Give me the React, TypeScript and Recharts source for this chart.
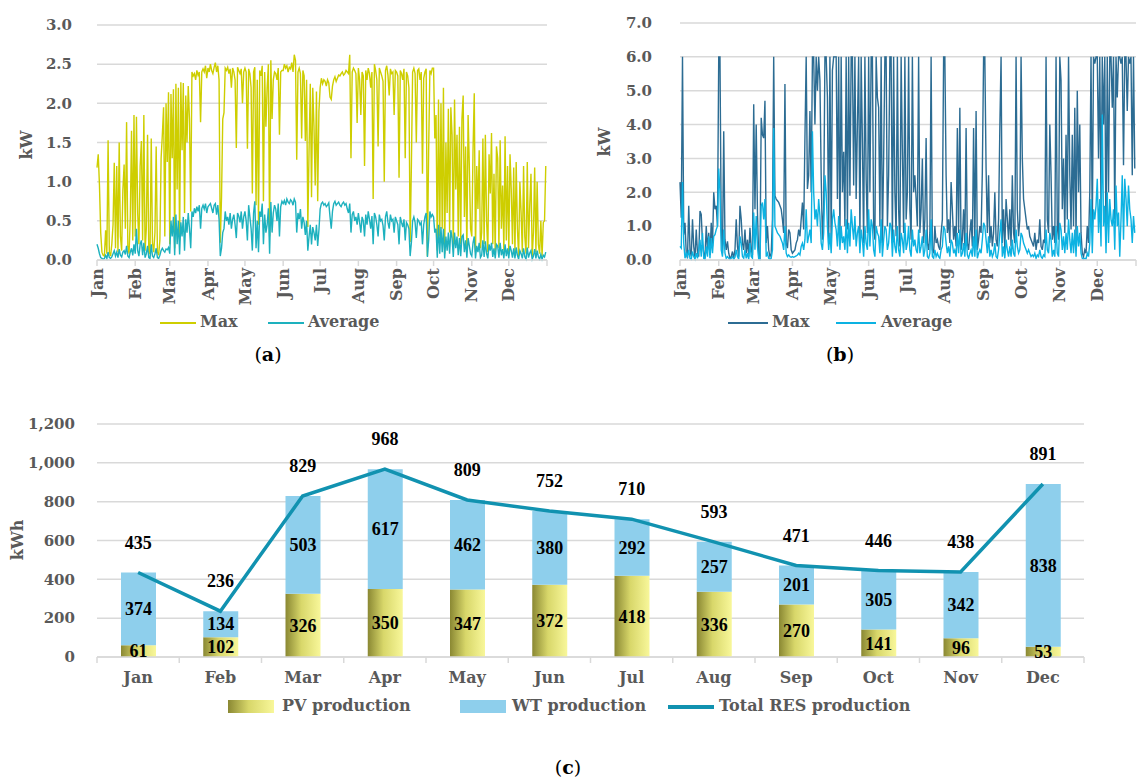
import {
  LineChart,
  Line,
  XAxis,
  YAxis,
  CartesianGrid,
  ComposedChart,
  Bar,
  LabelList,
} from "recharts";

const SERIF = '"DejaVu Serif", serif';
const TIMES = '"Liberation Serif", serif';
const GRAY = "#595959";
const GRID = "#d9d9d9";

const monthNames = ["Jan", "Feb", "Mar", "Apr", "May", "Jun", "Jul", "Aug", "Sep", "Oct", "Nov", "Dec"];
const monthStarts = [0, 31, 59, 90, 120, 151, 181, 212, 243, 273, 304, 334];

// (a) PV daily power, kW
const pvMax = [
  1.18, 1.35, 0.95, 0.35, 0.1, 0.06, 0.05, 0.38, 0.08, 1.53, 0.1, 0.05, 0.2, 0.45, 1.24, 0.15, 1.2, 0.1, 1.5, 0.3, 0.12, 0.9, 1.22, 0.4, 1.76, 0.18, 0.08, 0.55, 1.65, 0.25, 1.85,
  0.3, 1.83, 0.6, 0.2, 1.2, 1.52, 0.25, 1.85, 0.12, 0.4, 1.6, 0.1, 0.08, 1.55, 0.22, 0.1, 0.35, 1.45, 0.1, 0.06, 0.25, 1.3, 1.6, 1.95, 0.3, 2.0, 1.25, 2.14,
  0.2, 2.12, 1.3, 2.18, 0.15, 2.25, 0.9, 2.2, 0.25, 2.27, 1.4, 2.26, 0.6, 2.1, 1.5, 2.22, 1.8, 0.62, 2.4, 2.35, 2.38, 2.3, 2.42, 2.36, 2.4, 1.76, 2.4, 2.44, 2.4, 2.48, 2.32,
  2.45, 2.4, 2.5, 2.42, 2.38, 2.46, 2.52, 2.4, 2.48, 2.3, 0.22, 0.8, 1.8, 1.88, 2.45, 2.42, 2.46, 2.38, 2.44, 2.2, 2.45, 2.4, 2.3, 1.43, 2.46, 2.42, 2.38, 2.44, 2.0, 2.4,
  2.45, 2.4, 1.42, 2.44, 2.38, 2.2, 0.85, 2.4, 2.46, 0.7, 2.3, 0.45, 2.42, 2.35, 2.48, 0.75, 2.4, 1.7, 2.2, 2.5, 0.3, 2.55, 1.8, 2.3, 2.4, 2.38, 2.3, 2.45, 1.6, 2.4, 2.42,
  2.42, 2.5, 2.45, 2.48, 2.4, 2.46, 2.44, 2.52, 2.4, 2.62, 2.55, 1.28, 2.4, 2.45, 2.38, 1.55, 2.42, 2.35, 1.52, 2.3, 0.42, 1.4, 2.25, 0.8, 2.2, 1.7, 0.95, 2.15, 0.75, 1.9,
  2.2, 2.32, 2.25, 2.3, 2.28, 2.22, 2.3, 2.26, 2.08, 2.05, 2.22, 2.3, 2.34, 2.28, 2.32, 2.36, 2.35, 2.38, 2.4, 2.36, 2.38, 2.42, 2.4, 2.38, 2.62, 1.3, 2.4, 2.45, 2.42, 2.38, 1.75,
  2.45, 2.3, 1.85, 2.4, 2.35, 1.2, 2.42, 2.3, 2.45, 2.38, 2.2, 2.4, 0.78, 2.5, 2.42, 2.3, 1.45, 2.45, 2.4, 2.35, 2.28, 1.0, 2.42, 2.48, 2.36, 2.1, 2.44, 2.38, 2.4, 1.85, 2.42,
  2.4, 2.35, 1.05, 2.42, 2.38, 2.3, 2.44, 1.3, 2.4, 2.35, 2.2, 0.23, 1.2, 2.4, 2.45, 2.38, 1.5, 2.42, 2.44, 2.3, 2.4, 1.1, 2.32, 2.4, 2.44, 0.05, 1.4, 2.42, 2.38, 2.45,
  2.45, 1.55, 1.85, 0.12, 2.05, 0.3, 2.0, 0.4, 2.2, 0.08, 1.5, 0.6, 1.93, 0.35, 1.95, 1.6, 0.15, 2.05, 0.9, 1.6, 0.3, 1.7, 0.2, 1.8, 2.1, 0.55, 1.45, 0.1, 1.85, 1.2, 0.4,
  0.3, 1.4, 2.13, 0.1, 1.2, 0.65, 1.4, 0.15, 0.35, 1.55, 0.2, 1.6, 0.5, 0.1, 1.35, 0.85, 1.62, 0.2, 1.1, 0.08, 1.45, 1.3, 0.15, 1.53, 0.4, 0.95, 0.12, 1.58, 0.25, 1.2,
  0.1, 1.35, 0.9, 0.2, 1.18, 0.08, 1.25, 0.4, 0.05, 1.0, 0.6, 0.1, 1.2, 0.3, 0.08, 1.25, 0.15, 0.7, 1.1, 0.05, 0.35, 1.18, 0.1, 1.0, 0.2, 0.08, 0.5, 0.05, 0.48, 0.5, 1.2,
];
const pvAvg = [
  0.2, 0.15, 0.08, 0.03, 0.02, 0.01, 0.02, 0.06, 0.02, 0.1, 0.03, 0.02, 0.04, 0.08, 0.12, 0.05, 0.1, 0.03, 0.14, 0.06, 0.04, 0.1, 0.12, 0.07, 0.18, 0.05, 0.03, 0.1, 0.15, 0.06, 0.2,
  0.08, 0.4, 0.12, 0.05, 0.2, 0.25, 0.06, 0.22, 0.03, 0.08, 0.18, 0.03, 0.02, 0.2, 0.05, 0.03, 0.08, 0.15, 0.03, 0.02, 0.06, 0.12, 0.15, 0.12, 0.1, 0.14, 0.13, 0.16,
  0.08, 0.5, 0.3, 0.55, 0.06, 0.58, 0.2, 0.5, 0.07, 0.48, 0.3, 0.55, 0.12, 0.52, 0.35, 0.6, 0.4, 0.15, 0.62, 0.55, 0.66, 0.6, 0.68, 0.62, 0.7, 0.4, 0.66, 0.7, 0.65, 0.72, 0.6,
  0.68, 0.7, 0.72, 0.66, 0.6, 0.7, 0.72, 0.58, 0.7, 0.52, 0.05, 0.15, 0.35, 0.4, 0.62, 0.5, 0.55, 0.45, 0.6, 0.4, 0.52, 0.58, 0.45, 0.28, 0.6, 0.56, 0.48, 0.62, 0.4, 0.55,
  0.62, 0.5, 0.25, 0.7, 0.55, 0.4, 0.12, 0.6, 0.75, 0.15, 0.5, 0.1, 0.62, 0.55, 0.72, 0.2, 0.58, 0.35, 0.45, 0.66, 0.08, 0.74, 0.35, 0.6, 0.7, 0.65, 0.5, 0.72, 0.3, 0.68, 0.75,
  0.72, 0.76, 0.7, 0.78, 0.74, 0.72, 0.77, 0.75, 0.7, 0.78, 0.74, 0.35, 0.6, 0.52, 0.65, 0.4, 0.55, 0.48, 0.32, 0.5, 0.12, 0.3, 0.45, 0.2, 0.42, 0.35, 0.25, 0.45, 0.18, 0.38,
  0.65, 0.72, 0.74, 0.7, 0.72, 0.68, 0.7, 0.73, 0.55, 0.4, 0.62, 0.72, 0.75, 0.7, 0.72, 0.74, 0.7, 0.68, 0.72, 0.74, 0.7, 0.72, 0.65, 0.6, 0.72, 0.35, 0.58, 0.62, 0.5, 0.55, 0.45,
  0.6, 0.48, 0.35, 0.55, 0.5, 0.3, 0.58, 0.45, 0.62, 0.52, 0.4, 0.56, 0.2, 0.6, 0.55, 0.45, 0.3, 0.58, 0.5, 0.52, 0.44, 0.25, 0.55, 0.62, 0.48, 0.4, 0.58, 0.5, 0.52, 0.35, 0.55,
  0.5, 0.45, 0.2, 0.55, 0.48, 0.42, 0.52, 0.25, 0.48, 0.45, 0.4, 0.05, 0.22, 0.5, 0.55, 0.48, 0.28, 0.52, 0.5, 0.45, 0.48, 0.2, 0.45, 0.55, 0.6, 0.04, 0.25, 0.62, 0.55, 0.58,
  0.55, 0.35, 0.4, 0.03, 0.45, 0.08, 0.42, 0.1, 0.4, 0.02, 0.3, 0.12, 0.35, 0.08, 0.38, 0.28, 0.04, 0.35, 0.15, 0.3, 0.06, 0.28, 0.05, 0.3, 0.32, 0.1, 0.25, 0.03, 0.28, 0.18, 0.08,
  0.05, 0.22, 0.3, 0.02, 0.18, 0.1, 0.22, 0.03, 0.06, 0.25, 0.04, 0.24, 0.08, 0.02, 0.2, 0.12, 0.22, 0.04, 0.15, 0.02, 0.2, 0.18, 0.03, 0.22, 0.06, 0.14, 0.02, 0.2, 0.05, 0.15,
  0.02, 0.18, 0.12, 0.03, 0.15, 0.02, 0.16, 0.06, 0.01, 0.12, 0.08, 0.02, 0.15, 0.04, 0.01, 0.16, 0.03, 0.09, 0.12, 0.01, 0.05, 0.14, 0.02, 0.12, 0.04, 0.01, 0.07, 0.01, 0.06, 0.04, 0.1,
];

// (b) WT daily power, kW
const wtMax = [
  2.3, 1.25, 6.0, 0.75, 1.1, 0.2, 0.05, 1.6, 0.3, 0.1, 1.2, 0.4, 0.05, 0.9, 0.2, 0.1, 1.45, 1.35, 0.5, 0.2, 0.05, 1.0, 0.3, 0.8, 0.15, 1.1, 0.4, 2.0, 1.5, 1.6, 1.0,
  6.0, 6.0, 0.9, 0.2, 3.8, 0.6, 0.3, 0.55, 0.2, 0.05, 0.1, 0.25, 0.05, 0.3, 1.2, 0.4, 0.1, 1.6, 1.2, 0.5, 0.3, 0.9, 0.2, 0.6, 0.1, 0.95, 0.3, 0.15,
  4.6, 1.5, 4.0, 1.4, 0.1, 0.05, 4.2, 3.7, 3.6, 4.7, 0.5, 1.0, 0.3, 0.1, 0.2, 1.2, 6.0, 1.9, 1.8, 1.75, 1.7, 1.6, 1.5, 1.2, 0.8, 5.2, 0.5, 0.35, 0.9, 0.8, 0.3,
  0.2, 0.25, 0.3, 0.5, 0.6, 0.9, 0.7, 1.2, 1.7, 0.9, 3.6, 6.0, 2.1, 2.5, 4.4, 2.0, 6.0, 6.0, 4.0, 6.0, 5.0, 6.0, 5.3, 2.5, 0.6, 1.5, 6.0, 6.0, 4.8, 0.5,
  6.0, 0.5, 5.6, 6.0, 6.0, 6.0, 1.8, 6.0, 0.5, 6.0, 2.0, 3.2, 1.0, 6.0, 0.9, 6.0, 1.9, 6.0, 6.0, 2.2, 6.0, 1.8, 4.0, 6.0, 0.6, 6.0, 3.5, 0.5, 6.0, 2.4, 0.8,
  6.0, 2.0, 6.0, 6.0, 1.0, 0.6, 6.0, 4.8, 4.5, 1.0, 6.0, 0.5, 3.0, 6.0, 6.0, 1.0, 2.5, 6.0, 6.0, 0.5, 6.0, 2.0, 0.7, 6.0, 1.5, 0.4, 6.0, 3.2, 0.8, 6.0,
  1.2, 2.0, 6.0, 1.5, 0.6, 6.0, 2.0, 2.5, 1.8, 1.0, 6.0, 0.8, 1.5, 3.0, 0.5, 1.2, 3.6, 0.5, 0.3, 0.8, 6.0, 0.3, 0.2, 1.0, 0.5, 0.6, 0.4, 0.3, 0.8, 1.2, 6.0,
  6.0, 2.5, 0.8, 1.2, 0.5, 2.3, 1.5, 0.6, 1.0, 0.4, 3.9, 0.8, 4.5, 0.3, 0.6, 1.5, 0.4, 3.9, 0.5, 0.3, 0.8, 1.2, 0.4, 3.9, 0.5, 4.4, 0.3, 0.6, 1.0, 0.8, 2.6,
  6.0, 6.0, 2.7, 0.8, 2.5, 0.5, 1.0, 0.4, 0.8, 2.0, 0.6, 0.4, 1.2, 3.9, 6.0, 0.5, 1.5, 0.3, 1.8, 1.2, 0.6, 1.5, 0.4, 2.5, 0.8, 0.5, 6.0, 1.5, 0.7, 1.2,
  6.0, 3.0, 1.8, 1.5, 1.2, 0.9, 1.0, 0.7, 0.6, 0.5, 0.4, 0.8, 0.3, 0.6, 0.5, 1.2, 0.4, 0.3, 0.6, 0.5, 6.0, 1.2, 0.8, 4.0, 2.5, 0.6, 1.0, 0.5, 6.0, 1.0, 0.6,
  6.0, 5.3, 1.5, 3.0, 0.8, 3.7, 1.2, 6.0, 2.5, 0.9, 3.7, 1.0, 4.5, 0.6, 5.0, 2.0, 4.0, 0.8, 0.2, 0.1, 0.3, 0.2, 1.0, 0.5, 2.0, 6.0, 0.8, 6.0, 5.8, 6.0,
  6.0, 3.0, 6.0, 1.5, 6.0, 4.0, 6.0, 0.5, 6.0, 2.0, 6.0, 6.0, 4.5, 6.0, 1.2, 6.0, 4.8, 6.0, 6.0, 5.8, 6.0, 2.8, 6.0, 6.0, 4.4, 6.0, 5.8, 6.0, 2.5, 6.0, 2.7,
];
const wtAvg = [
  0.4, 0.35, 2.3, 0.5, 0.05, 0.2, 0.1, 0.3, 0.05, 0.02, 0.25, 0.1, 0.02, 0.2, 0.05, 0.3, 0.6, 0.1, 0.8, 0.05, 0.02, 0.4, 0.1, 0.7, 0.05, 0.65, 0.2, 0.7, 0.75, 0.9, 1.0,
  2.7, 2.0, 0.3, 0.1, 0.9, 0.2, 0.05, 0.1, 0.05, 0.02, 0.05, 0.1, 0.02, 0.08, 0.3, 0.1, 0.02, 0.7, 0.5, 0.1, 0.05, 0.3, 0.05, 0.2, 0.02, 0.5, 0.1, 0.05,
  1.4, 0.3, 1.3, 0.4, 0.02, 0.01, 1.6, 1.7, 1.2, 1.8, 0.1, 0.2, 0.05, 0.02, 0.05, 0.3, 3.9, 1.0, 0.9, 0.8, 0.75, 0.7, 0.6, 0.5, 0.3, 1.0, 0.2, 0.1, 0.15, 0.1, 0.08,
  0.1, 0.08, 0.1, 0.12, 0.15, 0.2, 0.15, 0.4, 0.5, 0.3, 0.6, 1.5, 0.5, 0.7, 0.9, 0.5, 3.8, 2.0, 1.2, 1.5, 1.0, 1.8, 1.3, 0.5, 0.3, 0.8, 2.5, 2.0, 1.0, 0.3,
  0.8, 0.2, 1.2, 1.5, 1.1, 0.9, 0.4, 1.3, 0.3, 1.0, 0.5, 0.7, 0.3, 1.2, 0.2, 1.1, 0.4, 1.5, 1.0, 0.6, 1.3, 0.4, 0.8, 1.0, 0.2, 0.9, 0.6, 0.1, 1.0, 0.5, 0.3,
  1.5, 0.4, 1.2, 1.0, 0.3, 0.1, 1.0, 0.8, 0.7, 0.2, 1.2, 0.1, 0.6, 1.0, 0.9, 0.3, 0.5, 1.1, 1.0, 0.1, 0.9, 0.4, 0.2, 1.0, 0.3, 0.1, 0.8, 0.6, 0.2, 1.1,
  0.3, 0.5, 1.0, 0.3, 0.1, 0.9, 0.4, 0.6, 0.3, 0.2, 0.9, 0.2, 0.4, 0.7, 0.1, 0.3, 0.9, 0.1, 0.05, 0.2, 1.2, 0.1, 0.05, 0.3, 0.1, 0.2, 0.1, 0.05, 0.3, 0.4, 1.0,
  0.9, 0.5, 0.2, 0.4, 0.1, 0.6, 0.5, 0.2, 0.3, 0.1, 0.8, 0.2, 0.9, 0.1, 0.2, 0.5, 0.1, 0.8, 0.15, 0.05, 0.2, 0.3, 0.1, 0.7, 0.1, 0.9, 0.05, 0.2, 0.3, 0.2, 0.6,
  1.1, 1.0, 0.6, 0.2, 0.7, 0.1, 0.3, 0.1, 0.2, 0.5, 0.1, 0.05, 0.3, 0.8, 1.2, 0.1, 0.4, 0.05, 0.6, 0.3, 0.1, 0.4, 0.1, 0.6, 0.2, 0.1, 0.9, 0.4, 0.2, 0.3,
  0.8, 0.7, 0.5, 0.4, 0.3, 0.2, 0.3, 0.2, 0.1, 0.15, 0.1, 0.2, 0.05, 0.15, 0.1, 0.3, 0.1, 0.05, 0.15, 0.1, 0.9, 0.3, 0.2, 0.8, 0.6, 0.1, 0.3, 0.1, 1.0, 0.2, 0.1,
  1.1, 0.9, 0.3, 0.7, 0.2, 0.8, 0.3, 1.2, 0.6, 0.2, 0.8, 0.2, 0.9, 0.1, 1.0, 0.4, 0.8, 0.2, 0.05, 0.02, 0.05, 0.03, 0.2, 0.1, 0.5, 1.8, 0.2, 1.5, 1.2, 1.6,
  2.4, 0.8, 1.8, 0.4, 4.3, 1.0, 1.6, 0.2, 2.0, 0.5, 1.8, 1.2, 1.0, 1.5, 0.3, 2.2, 1.0, 1.4, 0.1, 1.2, 2.5, 0.6, 2.4, 1.8, 1.0, 2.2, 1.5, 1.2, 0.5, 1.3, 0.8,
];

// (c) monthly energy, kWh
const pvMonthly = [61, 102, 326, 350, 347, 372, 418, 336, 270, 141, 96, 53];
const wtMonthly = [374, 134, 503, 617, 462, 380, 292, 257, 201, 305, 342, 838];
const resTotal = [435, 236, 829, 968, 809, 752, 710, 593, 471, 446, 438, 891];

const pvTicks = [0, 0.5, 1, 1.5, 2, 2.5, 3];
const wtTicks = [0, 1, 2, 3, 4, 5, 6, 7];
const kwhTicks = [0, 200, 400, 600, 800, 1000, 1200];

const pvData = pvMax.map((v, i) => ({ d: i, max: v, avg: pvAvg[i] }));
const wtData = wtMax.map((v, i) => ({ d: i, max: v, avg: wtAvg[i] }));
const resData = monthNames.map((m, i) => ({ m, pv: pvMonthly[i], wt: wtMonthly[i], total: resTotal[i] }));

const MonthTick = (props: any) => {
  const { x, y, payload } = props;
  const i = monthStarts.indexOf(payload.value);
  if (i < 0) return <g />;
  return (
    <text
      x={x}
      y={y}
      transform={`rotate(-90 ${x} ${y})`}
      textAnchor="end"
      dy="0.35em"
      fill={GRAY}
      fontSize={16}
      fontWeight="bold"
      fontFamily={SERIF}
    >
      {monthNames[i]}
    </text>
  );
};

// (c) plot geometry, used for the category boundary tick marks
const C_PLOT_W = 1137 - 53 - 97;
const C_BAND = C_PLOT_W / monthNames.length;

const CatTick = (props: any) => {
  const { x, y, payload, index } = props;
  return (
    <g>
      <line x1={x - C_BAND / 2} x2={x - C_BAND / 2} y1={y} y2={y + 6} stroke={GRID} strokeWidth={1.5} />
      {index === monthNames.length - 1 && (
        <line x1={x + C_BAND / 2} x2={x + C_BAND / 2} y1={y} y2={y + 6} stroke={GRID} strokeWidth={1.5} />
      )}
      <text x={x} y={y + 20} dy="0.35em" textAnchor="middle" fill={GRAY} fontSize={16} fontWeight="bold" fontFamily={SERIF}>
        {payload.value}
      </text>
    </g>
  );
};

const BarValue = (props: any) => {
  const { x, y, width, height, value } = props;
  return (
    <text x={x + width / 2} y={y + height / 2} dy="0.35em" textAnchor="middle" fill="#000" fontSize={18} fontWeight="bold" fontFamily={TIMES}>
      {value}
    </text>
  );
};

const TopValue = (props: any) => {
  const { x, y, value } = props;
  return (
    <text x={x} y={y - 30} dy="0.35em" textAnchor="middle" fill="#000" fontSize={18} fontWeight="bold" fontFamily={TIMES}>
      {value}
    </text>
  );
};

const legendText = { fontFamily: SERIF, fontWeight: "bold" as const, fontSize: 16, color: GRAY };

const LegendLine = ({ left, top, width, color, thick = 2 }: any) => (
  <div style={{ position: "absolute", left, top, width, height: 0, borderTop: `${thick}px solid ${color}` }} />
);

const Txt = ({ left, top, children, style }: any) => (
  <div style={{ position: "absolute", left, top, lineHeight: 1, whiteSpace: "nowrap", ...legendText, ...style }}>{children}</div>
);

const Caption = ({ cx, top, letter }: any) => (
  <div style={{ position: "absolute", left: cx, top, transform: "translateX(-50%)", fontFamily: SERIF, fontSize: 19, color: "#000", lineHeight: 1 }}>
    (<b>{letter}</b>)
  </div>
);

const AxisTitle = ({ cx, cy, children }: any) => (
  <div
    style={{
      position: "absolute",
      left: cx,
      top: cy,
      transform: "translate(-50%, -50%) rotate(-90deg)",
      whiteSpace: "nowrap",
      lineHeight: 1,
      ...legendText,
    }}
  >
    {children}
  </div>
);

const PV_A_MAX = "#cece00";
const PV_A_AVG = "#1db1be";
const WT_B_MAX = "#2c6c93";
const WT_B_AVG = "#0cb2e2";
const WT_BAR = "#8ecfec";
const RES_LINE = "#1192b0";

export default function App() {
  return (
    <div style={{ position: "relative", width: 1137, height: 783, background: "#fff", overflow: "hidden" }}>
      <style>{"body{margin:0}"}</style>

      {/* (a) PV */}
      <div style={{ position: "absolute", left: 0, top: 0 }}>
        <LineChart width={560} height={320} data={pvData} margin={{ top: 25, right: 13, left: 0, bottom: 0 }}>
          <CartesianGrid vertical={false} stroke={GRID} strokeWidth={1.5} />
          <XAxis
            dataKey="d"
            type="number"
            domain={[0, 365]}
            ticks={[...monthStarts, 365]}
            interval={0}
            height={60}
            tick={(p: any) => <MonthTick {...p} />}
            tickLine={{ stroke: GRID, strokeWidth: 1.5 }}
            axisLine={{ stroke: GRID, strokeWidth: 1.5 }}
            tickSize={6}
            tickMargin={2}
          />
          <YAxis
            type="number"
            domain={[0, 3]}
            ticks={pvTicks}
            width={97}
            axisLine={false}
            tickLine={false}
            tickSize={0}
            tickMargin={25}
            tick={{ fill: GRAY, fontSize: 15, fontWeight: "bold", fontFamily: SERIF }}
            tickFormatter={(v: number) => v.toFixed(1)}
          />
          <Line type="linear" dataKey="max" stroke={PV_A_MAX} strokeWidth={1.4} dot={false} isAnimationActive={false} />
          <Line type="linear" dataKey="avg" stroke={PV_A_AVG} strokeWidth={1.4} dot={false} isAnimationActive={false} />
        </LineChart>
      </div>
      <AxisTitle cx={27} cy={145}>kW</AxisTitle>
      <LegendLine left={160} top={322} width={36} color={PV_A_MAX} />
      <Txt left={200} top={314}>Max</Txt>
      <LegendLine left={268} top={322} width={36} color={PV_A_AVG} />
      <Txt left={308} top={314}>Average</Txt>
      <Caption cx={268} top={345} letter="a" />

      {/* (b) WT */}
      <div style={{ position: "absolute", left: 570, top: 0 }}>
        <LineChart width={567} height={320} data={wtData} margin={{ top: 23, right: 1, left: 0, bottom: 0 }}>
          <CartesianGrid vertical={false} stroke={GRID} strokeWidth={1.5} />
          <XAxis
            dataKey="d"
            type="number"
            domain={[0, 365]}
            ticks={[...monthStarts, 365]}
            interval={0}
            height={60}
            tick={(p: any) => <MonthTick {...p} />}
            tickLine={{ stroke: GRID, strokeWidth: 1.5 }}
            axisLine={{ stroke: GRID, strokeWidth: 1.5 }}
            tickSize={6}
            tickMargin={2}
          />
          <YAxis
            type="number"
            domain={[0, 7]}
            ticks={wtTicks}
            width={110}
            axisLine={false}
            tickLine={false}
            tickSize={0}
            tickMargin={28}
            tick={{ fill: GRAY, fontSize: 15, fontWeight: "bold", fontFamily: SERIF }}
            tickFormatter={(v: number) => v.toFixed(1)}
          />
          <Line type="linear" dataKey="max" stroke={WT_B_MAX} strokeWidth={1.4} dot={false} isAnimationActive={false} />
          <Line type="linear" dataKey="avg" stroke={WT_B_AVG} strokeWidth={1.4} dot={false} isAnimationActive={false} />
        </LineChart>
      </div>
      <AxisTitle cx={605} cy={142}>kW</AxisTitle>
      <LegendLine left={728} top={322} width={40} color={WT_B_MAX} />
      <Txt left={772} top={314}>Max</Txt>
      <LegendLine left={836} top={322} width={40} color={WT_B_AVG} />
      <Txt left={881} top={314}>Average</Txt>
      <Caption cx={840} top={345} letter="b" />

      {/* (c) monthly RES production */}
      <div style={{ position: "absolute", left: 0, top: 400 }}>
        <ComposedChart width={1137} height={300} data={resData} margin={{ top: 24, right: 53, left: 0, bottom: 0 }}>
          <defs>
            <linearGradient id="pvGrad" x1="0" y1="0" x2="1" y2="0">
              <stop offset="0%" stopColor="#8a8833" />
              <stop offset="45%" stopColor="#d8d76a" />
              <stop offset="100%" stopColor="#f8f79a" />
            </linearGradient>
          </defs>
          <CartesianGrid vertical={false} stroke={GRID} strokeWidth={1.5} />
          <XAxis
            dataKey="m"
            interval={0}
            height={43}
            tick={(p: any) => <CatTick {...p} />}
            tickLine={false}
            tickSize={0}
            tickMargin={0}
            axisLine={{ stroke: GRID, strokeWidth: 1.5 }}
          />
          <YAxis
            domain={[0, 1200]}
            ticks={kwhTicks}
            width={97}
            axisLine={false}
            tickLine={false}
            tickSize={0}
            tickMargin={22}
            tick={{ fill: GRAY, fontSize: 15, fontWeight: "bold", fontFamily: SERIF }}
            tickFormatter={(v: number) => v.toLocaleString("en-US")}
          />
          <Bar dataKey="pv" stackId="res" fill="url(#pvGrad)" barSize={35} isAnimationActive={false}>
            <LabelList dataKey="pv" content={(p: any) => <BarValue {...p} />} />
          </Bar>
          <Bar dataKey="wt" stackId="res" fill={WT_BAR} barSize={35} isAnimationActive={false}>
            <LabelList dataKey="wt" content={(p: any) => <BarValue {...p} />} />
          </Bar>
          <Line type="linear" dataKey="total" stroke={RES_LINE} strokeWidth={3.5} dot={false} isAnimationActive={false}>
            <LabelList dataKey="total" content={(p: any) => <TopValue {...p} />} />
          </Line>
        </ComposedChart>
      </div>
      <AxisTitle cx={18} cy={540}>kWh</AxisTitle>
      <div
        style={{
          position: "absolute",
          left: 228,
          top: 700,
          width: 46,
          height: 13,
          background: "linear-gradient(to right, #8a8833, #d8d76a 45%, #f8f79a)",
        }}
      />
      <Txt left={282} top={698}>PV production</Txt>
      <div style={{ position: "absolute", left: 460, top: 700, width: 46, height: 13, background: WT_BAR }} />
      <Txt left={512} top={698}>WT production</Txt>
      <LegendLine left={668} top={705} width={46} color={RES_LINE} thick={4} />
      <Txt left={719} top={698}>Total RES production</Txt>
      <Caption cx={568} top={758} letter="c" />
    </div>
  );
}
